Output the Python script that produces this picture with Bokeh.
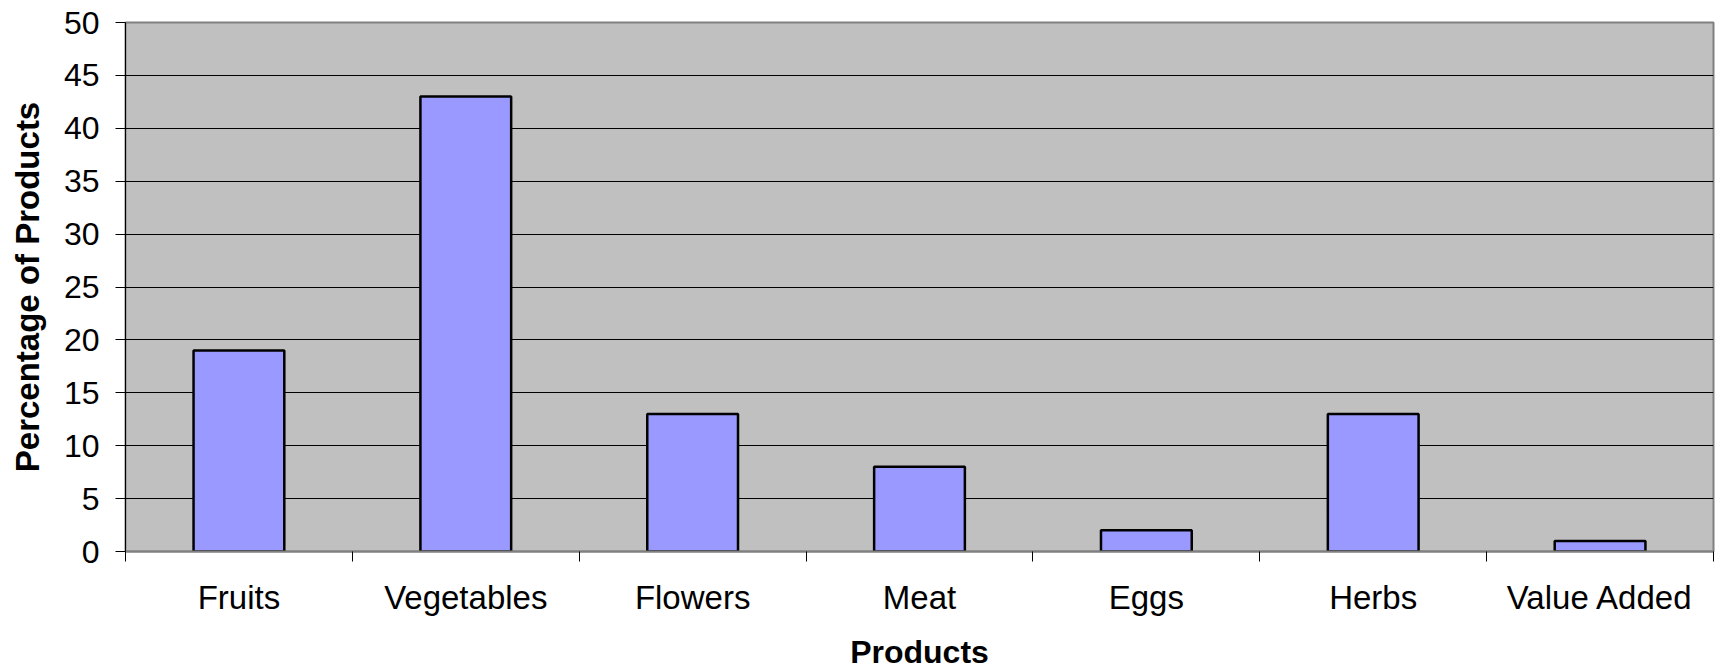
from bokeh.plotting import figure
from bokeh.models import Range1d, LinearAxis, FixedTicker, ColumnDataSource
from bokeh.embed import file_html
from bokeh.resources import INLINE

categories = ["Fruits", "Vegetables", "Flowers", "Meat", "Eggs", "Herbs", "Value Added"]
percentages = [19, 43, 13, 8, 2, 13, 1]
y_ticks = [0, 5, 10, 15, 20, 25, 30, 35, 40, 45, 50]
x_title = "Products"
y_title = "Percentage of Products"

FONT = "Liberation Sans"

# category slots on a numeric axis: centres at i+0.5, tick marks at slot edges (Excel style)
n = len(categories)
centres = [i + 0.5 for i in range(n)]
edges = list(range(n + 1))

source = ColumnDataSource(data=dict(x=centres, val=percentages, cat=categories))

p = figure(
    width=1722, height=672,
    x_range=Range1d(0, n),
    y_range=Range1d(0, 50),
    x_axis_location=None, y_axis_location=None,
    output_backend="svg", toolbar_location=None, tools="",
    min_border_left=125, min_border_right=9, min_border_top=22, min_border_bottom=121,
)
p.background_fill_color = "#C0C0C0"
p.border_fill_color = "white"
p.outline_line_color = "#808080"
p.outline_line_width = 2

x_axis = LinearAxis(ticker=FixedTicker(ticks=centres, minor_ticks=edges))
x_axis.major_label_overrides = {c: lab for c, lab in zip(centres, categories)}
x_axis.major_tick_line_color = None
x_axis.major_tick_out = 10
x_axis.major_tick_in = 0
x_axis.minor_tick_line_color = "black"
x_axis.minor_tick_line_width = 1
x_axis.minor_tick_out = 10
x_axis.minor_tick_in = 0
x_axis.axis_line_color = "#808080"
x_axis.axis_line_width = 2
x_axis.major_label_text_font = FONT
x_axis.major_label_text_font_size = "33px"
x_axis.major_label_text_color = "black"
x_axis.major_label_standoff = 17
x_axis.axis_label = x_title
x_axis.axis_label_text_font = FONT
x_axis.axis_label_text_font_size = "32px"
x_axis.axis_label_text_font_style = "bold"
x_axis.axis_label_text_color = "black"
x_axis.axis_label_standoff = 15
p.add_layout(x_axis, "below")

y_axis = LinearAxis(ticker=FixedTicker(ticks=y_ticks, minor_ticks=[]))
y_axis.major_tick_out = 10
y_axis.major_tick_in = 0
y_axis.major_tick_line_color = "black"
y_axis.axis_line_color = "black"
y_axis.axis_line_width = 1
y_axis.minor_tick_line_color = None
y_axis.major_label_text_font = FONT
y_axis.major_label_text_font_size = "32px"
y_axis.major_label_text_color = "black"
y_axis.major_label_standoff = 16
y_axis.axis_label = y_title
y_axis.axis_label_text_font = FONT
y_axis.axis_label_text_font_size = "33px"
y_axis.axis_label_text_font_style = "bold"
y_axis.axis_label_text_color = "black"
y_axis.axis_label_standoff = 15
p.add_layout(y_axis, "left")

p.xgrid.visible = False
p.ygrid.ticker = FixedTicker(ticks=y_ticks, minor_ticks=[])
p.ygrid.grid_line_color = "black"
p.ygrid.grid_line_width = 1
p.ygrid.grid_line_alpha = 1.0

p.vbar(x="x", top="val", width=0.4, bottom=0, source=source,
       fill_color="#9999FF", line_color="black", line_width=2.5)

open("out.html", "w").write(file_html(p, INLINE))
